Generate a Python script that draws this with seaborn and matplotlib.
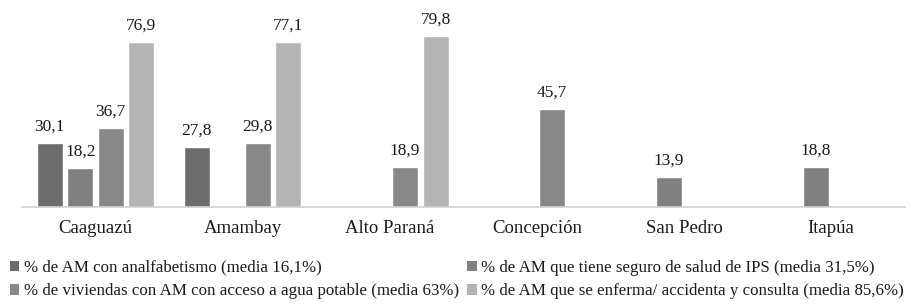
#!/usr/bin/env python3
import numpy as np
import pandas as pd
import seaborn as sns
import matplotlib.pyplot as plt
from matplotlib.patches import Patch

# Data
departamentos = ['Caaguazú', 'Amambay', 'Alto Paraná', 'Concepción', 'San Pedro', 'Itapúa']
series = [
    '% de AM con analfabetismo (media 16,1%)',
    '% de AM que tiene seguro de salud de IPS (media 31,5%)',
    '% de viviendas con AM con acceso a agua potable (media 63%)',
    '% de AM que se enferma/ accidenta y consulta (media 85,6%)',
]
analfabetismo = [30.1, 27.8, np.nan, np.nan, np.nan, np.nan]
seguro_ips = [18.2, np.nan, np.nan, np.nan, 13.9, 18.8]
agua_potable = [36.7, 29.8, 18.9, 45.7, np.nan, np.nan]
enferma_consulta = [76.9, 77.1, 79.8, np.nan, np.nan, np.nan]

colores = ['#6c6c6c', '#808080', '#888888', '#b4b4b4']

df = pd.DataFrame({
    'Departamento': departamentos * 4,
    'Serie': np.repeat(series, len(departamentos)),
    'Valor': analfabetismo + seguro_ips + agua_potable + enferma_consulta,
})

sns.set_style('white')
plt.rcParams['font.family'] = ['Liberation Serif', 'DejaVu Serif']

fig = plt.figure(figsize=(9.13, 3.05), dpi=100)
ax = fig.add_axes([0.024, 0.321, 0.967, 0.633])

sns.barplot(data=df, x='Departamento', y='Valor', hue='Serie', order=departamentos,
            hue_order=series, palette=colores, width=0.83, gap=0.15,
            legend=False, ax=ax, saturation=1)

for cont in ax.containers:
    etiquetas = [f'{v:.1f}'.replace('.', ',') for v in cont.datavalues]
    ax.bar_label(cont, labels=etiquetas, padding=6, fontsize=12.5, color='#1a1a1a')

ax.set_ylim(0, 90)
ax.set_xlim(-0.5, len(departamentos) - 0.5)
ax.set_xlabel('')
ax.set_ylabel('')
ax.set_yticks([])
ax.tick_params(axis='x', length=0, pad=9, labelsize=13.5, labelcolor='#1a1a1a')
for s in ['top', 'left', 'right']:
    ax.spines[s].set_visible(False)
ax.spines['bottom'].set_color('#d0d0d0')
ax.spines['bottom'].set_linewidth(1.2)

# legend filled row by row, as in the reference
orden = [0, 2, 1, 3]
handles = [Patch(facecolor=colores[i], edgecolor='none') for i in orden]
labels = [series[i] for i in orden]
fig.legend(handles, labels, ncol=2, loc='lower left', bbox_to_anchor=(0.0, -0.015),
           frameon=False, fontsize=12.2, handlelength=0.55, handleheight=0.55,
           handletextpad=0.25, columnspacing=0.5, labelspacing=0.45,
           labelcolor='#1a1a1a', borderaxespad=0.2)

fig.savefig('out.png', dpi=100)
plt.close(fig)
